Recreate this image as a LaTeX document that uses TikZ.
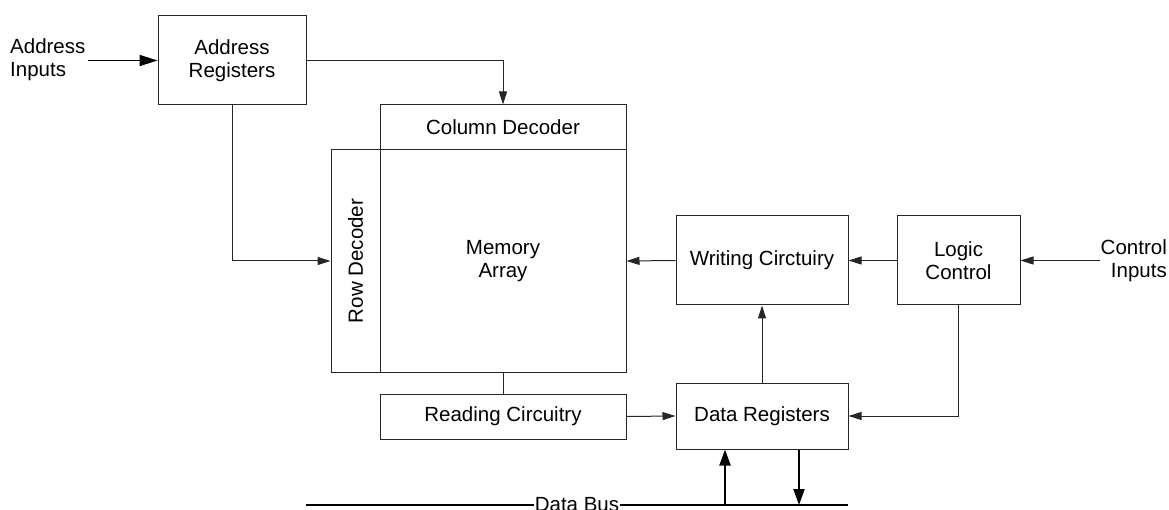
\documentclass[tikz,border=0pt]{standalone}
\usepackage{fontspec}
\setmainfont{Liberation Sans}
\usetikzlibrary{arrows.meta,calc}
\begin{document}
\begin{tikzpicture}[x=1pt,y=-1pt,
  every node/.style={font=\fontsize{20.5}{23}\selectfont},
  blk/.style={draw=black!85,line width=1pt,rectangle,inner sep=0pt,align=center},
  wire/.style={draw=black!85,line width=1pt},
  arr/.style={wire,-{Triangle[length=13pt,width=8pt]}},
  bus/.style={draw=black,line width=2pt},
  busarr/.style={bus,-{Triangle[length=16pt,width=11pt]}}]
\useasboundingbox (0,0) rectangle (1169,510);

% blocks
\node[blk,minimum width=148,minimum height=89] (ar) at (232,60.5) {Address\\Registers};
\node[blk,minimum width=246,minimum height=45] (cd) at (503,127.5) {Column Decoder};
\node[blk,minimum width=246,minimum height=222] (ma) at (503,261) {Memory\\Array};
\node[blk,minimum width=49,minimum height=222] (rd) at (355.5,261) {};
\node[rotate=90] (rdl) at (rd.center) {Row Decoder};
\node[blk,minimum width=172,minimum height=89] (wc) at (762,260.5) {Writing Circtuiry};
\node[blk,minimum width=123,minimum height=89] (lc) at (958.5,260.5) {Logic\\Control};
\node[blk,minimum width=172,minimum height=66] (dr) at (762,416) {Data Registers};
\node[blk,minimum width=246,minimum height=45] (rc) at (503,416.5) {Reading Circuitry};

% external inputs
\node[align=left,anchor=west,inner sep=0pt] (ain) at (10,60) {Address\\Inputs};
\node[align=right,anchor=east,inner sep=0pt] (cin) at (1167,261) {Control\\Inputs};
\coordinate (ainEnd) at (88,60.5);
\coordinate (cinEnd) at (1100,260.5);

% connections
\draw[bus,line width=1.8pt,-{Triangle[length=18pt,width=11pt]}] (ainEnd) -- (ar.west);
\draw[arr] (ar.east) -| (cd.north);
\draw[arr] (ar.south) |- (rd.west);
\draw[arr] (wc.west) -- (ma.east);
\draw[arr] (lc.west) -- (wc.east);
\draw[arr] (cinEnd) -- (lc.east);
\draw[wire] (ma.south) -- (rc.north);
\draw[arr] (rc.east) -- (dr.west);
\draw[arr] (dr.north) -- (wc.south);
\draw[arr] (lc.south) |- (dr.east);

% data bus
\coordinate (busL) at (306,505);
\coordinate (busR) at (848,505);
\coordinate (bin) at (725,505);
\coordinate (bout) at (799,505);
\draw[bus,line width=1.6pt] (busL) -- (busR);
\node[fill=white,inner sep=1pt] (dbus) at (577,505) {Data Bus};
\draw[busarr] (bin) -- (bin |- dr.south);
\draw[busarr] (bout |- dr.south) -- (bout);
\end{tikzpicture}
\end{document}
